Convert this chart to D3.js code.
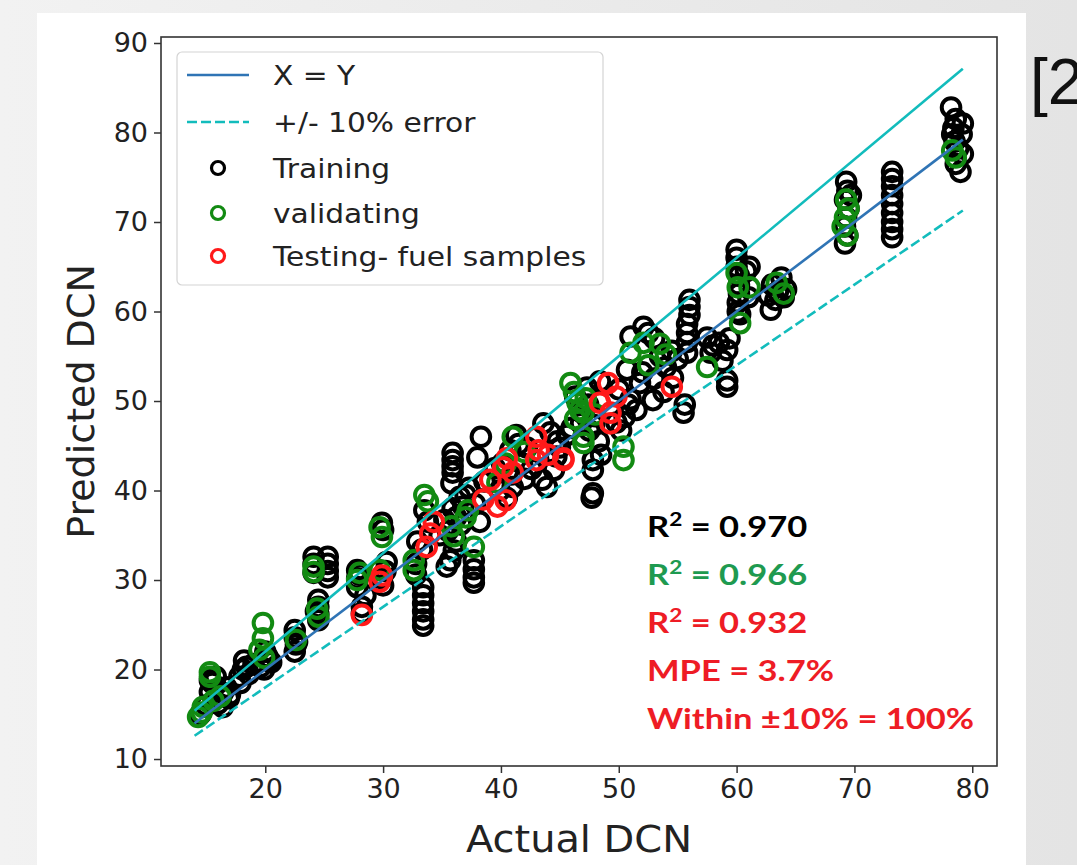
<!DOCTYPE html>
<html>
<head>
<meta charset="utf-8">
<script src="https://cdn.jsdelivr.net/npm/d3@7"></script>
<style>
  body { margin: 0; background: #ededed; }
  svg { display: block; }
</style>
</head>
<body>
<svg id="chart" width="1077" height="865"></svg>
<script>
// data: [actual DCN, predicted DCN]
var training = [
  [14.5,15],[15,16],[15.3,17.5],[15.5,18.5],[15.8,19.2],[16,16.2],[16.4,17.4],[16.4,15.8],[16.9,16.8],[15.3,18.8],[16.7,18],[17,17.2],
  [17.8,19.2],[18.1,20],[18.4,20.3],[18.6,19.5],[19,20.6],[18.2,21],[17.9,18.5],
  [19.9,20],[20.2,21.4],[20.5,20.8],[20,22],[20.3,21],[19.6,20.3],
  [22.5,24.4],[22.5,23.6],[22.6,22.8],[22.5,22],[22.7,23.1],
  [24.1,32.6],[24.1,31.8],[24.1,30.8],[24.5,27.8],[24.5,27],[24.5,26.2],[24.5,25.5],[24.3,26.5],
  [25.3,32.6],[25.3,31.8],[25.3,31],[25.3,30.3],
  [27.8,31.1],[27.8,30.2],[27.8,29.2],[28.2,27],[28.2,26.3],[28.5,28.3],[28,30.6],
  [29.9,36.4],[30,35.6],[29.9,30.2],[30.2,31],[30,29.4],[30.3,32],
  [32.8,31.8],[32.8,30.6],[33.4,29.2],[33.4,28.3],[33.4,27.4],[33.4,26.5],[33.4,25.6],[33.4,24.9],[33.8,36.5],[33.5,37.8],[33.3,33.4],[32.9,34.3],
  [35.9,44.2],[35.9,43.4],[35.9,42.7],[35.9,42],[35.8,40.8],[35.4,31.5],[35.7,32.2],[35.5,35.5],[35.2,36.7],[35.9,38],[36.2,37],[36.5,39.3],[36.2,34.3],[36,33.3],
  [36.8,38.2],[37,39.5],[36.6,36.2],[34.8,35],
  [37.7,32.2],[37.7,31.2],[37.7,30.3],[37.7,29.7],[38.3,46],[38,43.7],[37.3,40.3],[37.8,38.5],[38.6,41],[38.2,36.5],
  [39.5,42.5],[40.1,43],[41,40.4],[40.8,44.5],[41.5,45.2],[41.8,43],[42,41.3],[39.9,40],[40.5,39.2],[41.3,46.2],[42.2,44.8],[42.6,42.4],[40.9,41.8],
  [43.9,40.4],[43.5,41.2],[44.2,46.5],[44.8,45.5],[43.6,47.5],[44.5,42.3],[45,44.8],[45.6,46.2],[44.7,43.8],
  [46.3,50.5],[47.3,51.5],[47.8,43.4],[47.8,42.3],[47.8,39.7],[47.7,39.2],[47.9,47.3],[48,48.3],[47.5,46.7],[48.4,52.2],[46.8,47.5],[48.3,45.5],[48.5,44],[46,47],[47.4,49.6],
  [49.8,47.6],[50.2,46.7],[50.5,48.2],[50.8,49.6],[50,51.3],[51,57.2],[51,50.2],[50.7,53.5],[51.8,52],
  [52.1,58.3],[52.5,57.6],[53,57],[53.5,55],[53,52.5],[52.9,50.1],[51.5,49],[54,53.8],[54.5,55.6],[55,54.7],[53.8,51],[52,53.2],[55.5,48.7],[55.6,49.6],[54.6,52.6],
  [56,61.3],[56,60.5],[56,59.6],[55.8,58.6],[55.8,57.6],[55.8,56.6],[55.8,55.4],
  [57.5,57.1],[58,56.2],[57.8,55.4],[59.2,55.7],[59.4,57],[59.2,52.3],[59.2,51.6],[58.8,54.5],[58.5,56.5],
  [60,66.9],[60,66],[60,65],[60.2,64],[60.2,63],[60.2,62],[60.1,61],[60.1,60],[60.3,59.7],[60.8,64.5],[61.1,65],[61,61.6],
  [62.9,60.2],[63.3,61.3],[63.5,62.2],[63,63],[64,61.6],[64.2,62.5],[63.8,63.8],[62.7,61.8],
  [69.3,74.5],[69.4,73.5],[69.2,72.5],[69.5,71.5],[69.3,70.5],[69.2,69.5],[69.4,68.5],[69.2,67.6],[69.7,73],
  [73.2,75.6],[73.2,74.8],[73.2,74],[73.2,73],[73.2,72],[73.2,71],[73.2,70],[73.2,69.2],[73.2,68.3],
  [78.2,82.8],[78.6,81.5],[79.2,81],[78.4,80.5],[79.1,79.8],[78.5,79],[78.8,78.2],[79.2,77.6],[78.6,76.5],[79,75.6],[78.3,79.8]
]
var validating = [
  [14.3,14.7],[14.6,15.2],[15.3,19.7],[15.3,19.2],[14.7,15.8],[15.6,16.5],[16.2,17],
  [19.8,25.2],[19.8,23.5],[19.5,22.2],[19.9,21.3],[22.6,23.3],
  [24.1,31.5],[24.1,30.9],[24.5,25.9],[24.4,26.8],[27.8,30],[28,30.8],
  [29.7,35.9],[29.9,34.8],[29.7,31.1],[32.6,32.2],[32.6,31.1],[33.5,39.5],[33.8,38.8],
  [35.8,36],[36,34.9],[37.2,37.8],[37,37],[37.7,33.7],[39.7,40.9],[40.4,43],[41,46],[42,44.3],
  [45.9,52],[46.2,51],[46.5,49.8],[46.7,49],[47,48.7],[46.3,48],[47.2,50.3],[47,46],[47,45.3],[48,48.5],
  [50.4,44.9],[50.4,43.4],[51,55.4],[52.1,56.5],[53.5,56.4],[54,55.2],[52.5,54],[57.5,53.8],
  [60.3,58.7],[60.1,62.7],[60,64.3],[61.1,62.7],[63.4,63.2],[64,62],
  [69.3,72.5],[69.5,71.5],[69.2,70.5],[69,69.5],[69.4,68.5],[78.3,78],[78.6,77.2]
]
var testing = [
  [28.2,26.1],[29.7,29.8],[29.9,30.5],[34,35.2],[33.7,33.7],[34.3,36.5],
  [38.5,39],[39.1,41.2],[39.7,38.2],[40.2,42.6],[40.5,43.6],[41,42],[40.4,38.9],
  [43,46],[43.2,44.5],[43,43.4],[44,44],[45.3,43.6],[45.3,43.4],
  [48.4,49.8],[49.1,52],[49.3,48.7],[49.3,47.5],[49.8,50.5],[54.5,51.6]
]
var lineX = [14, 79.2]
var errorBand = 0.10
var xTicks = [20, 30, 40, 50, 60, 70, 80]
var yTicks = [10, 20, 30, 40, 50, 60, 70, 80, 90]
var legendNames = ["X = Y", "+/- 10% error", "Training", "validating", "Testing- fuel samples"]
var statLines = [
  {label: "R", sup: "2", rest: " = 0.970", color: "#000000"},
  {label: "R", sup: "2", rest: " = 0.966", color: "#1e9a50"},
  {label: "R", sup: "2", rest: " = 0.932", color: "#ee1c25"},
  {label: "MPE = 3.7%", sup: "", rest: "", color: "#ee1c25"},
  {label: "Within \u00b110% = 100%", sup: "", rest: "", color: "#ee1c25"}
]

var svg = d3.select("#chart")
var font = "DejaVu Sans, sans-serif"

// page background + white slide panel
var defs = svg.append("defs")
var grad = defs.append("linearGradient").attr("id", "bg").attr("x1", 0).attr("x2", 1)
grad.append("stop").attr("offset", 0).attr("stop-color", "#f2f2f2")
grad.append("stop").attr("offset", 1).attr("stop-color", "#e4e4e4")
svg.append("rect").attr("width", 1077).attr("height", 865).attr("fill", "url(#bg)")
svg.append("rect").attr("x", 37).attr("y", 13).attr("width", 989).attr("height", 852).attr("fill", "#ffffff")

svg.append("text").attr("x", 1030).attr("y", 104)
   .attr("font-family", "Liberation Sans Narrow, Liberation Sans, sans-serif")
   .attr("font-size", 64).attr("fill", "#111").text("[2")

var plotL = 161, plotT = 37, plotR = 997, plotB = 766
var x = d3.scaleLinear().domain([11.15, 82.1]).range([plotL, plotR])
var y = d3.scaleLinear().domain([9.22, 90.67]).range([plotB, plotT])

// text that is a little wider than the font gives (the figure was stretched sideways)
function wideText(parent, px, py, sx, anchor) {
  return parent.append("g").attr("transform", "translate(" + px + "," + py + ") scale(" + sx + ",1)")
    .append("text").attr("text-anchor", anchor || "start")
}

var plot = svg.append("g")
plot.append("clipPath").attr("id", "clip").append("rect")
    .attr("x", plotL).attr("y", plotT).attr("width", plotR - plotL).attr("height", plotB - plotT)

function drawSeries(data, color) {
  plot.append("g").attr("clip-path", "url(#clip)")
      .selectAll("circle").data(data).enter().append("circle")
      .attr("cx", function(d) { return x(d[0]) })
      .attr("cy", function(d) { return y(d[1]) })
      .attr("r", 9.3)
      .attr("fill", "none")
      .attr("stroke", color)
      .attr("stroke-width", 4)
}
drawSeries(training, "#000000")
drawSeries(validating, "#128a12")
drawSeries(testing, "#ff1a1a")

var line = d3.line().x(function(d) { return x(d[0]) }).y(function(d) { return y(d[1]) })
function band(k) { return lineX.map(function(v) { return [v, v * k] }) }
plot.append("path").attr("d", line(band(1 + errorBand))).attr("fill", "none")
    .attr("stroke", "#12bcbc").attr("stroke-width", 2.6)
plot.append("path").attr("d", line(band(1 - errorBand))).attr("fill", "none")
    .attr("stroke", "#12bcbc").attr("stroke-width", 2.6).attr("stroke-dasharray", "10,4")
plot.append("path").attr("d", line(band(1))).attr("fill", "none")
    .attr("stroke", "#2f74b5").attr("stroke-width", 2.6)

// axes
var xAxis = svg.append("g").attr("transform", "translate(0," + plotB + ")")
    .call(d3.axisBottom(x).tickValues(xTicks).tickSize(7).tickPadding(6))
var yAxis = svg.append("g").attr("transform", "translate(" + plotL + ",0)")
    .call(d3.axisLeft(y).tickValues(yTicks).tickSize(7).tickPadding(6))
;[xAxis, yAxis].forEach(function(a) {
  a.select(".domain").remove()
  a.selectAll("line").attr("stroke", "#333").attr("stroke-width", 1.5)
  a.selectAll("text").attr("font-family", font).attr("font-size", 27).attr("fill", "#222")
})
svg.append("rect").attr("x", plotL).attr("y", plotT).attr("width", plotR - plotL).attr("height", plotB - plotT)
   .attr("fill", "none").attr("stroke", "#333").attr("stroke-width", 1.6)

wideText(svg, (plotL + plotR) / 2, 852, 1.05, "middle")
   .attr("font-family", font).attr("font-size", 38).attr("fill", "#222").text("Actual DCN")
svg.append("text").attr("transform", "translate(94," + (plotT + plotB) / 2 + ") rotate(-90)")
   .attr("text-anchor", "middle").attr("font-family", font).attr("font-size", 38)
   .attr("fill", "#222").text("Predicted DCN")

// legend
var lg = svg.append("g")
lg.append("rect").attr("x", 177).attr("y", 52).attr("width", 426).attr("height", 233).attr("rx", 5)
  .attr("fill", "#fff").attr("stroke", "#d4d4d4").attr("stroke-width", 1.2)
var rowY = [75, 122, 168, 213, 256]
lg.append("line").attr("x1", 187).attr("x2", 249).attr("y1", rowY[0]).attr("y2", rowY[0])
  .attr("stroke", "#2f74b5").attr("stroke-width", 2.6)
lg.append("line").attr("x1", 187).attr("x2", 249).attr("y1", rowY[1]).attr("y2", rowY[1])
  .attr("stroke", "#12bcbc").attr("stroke-width", 2.6).attr("stroke-dasharray", "10,4")
;["#000000", "#128a12", "#ff1a1a"].forEach(function(c, i) {
  lg.append("circle").attr("cx", 218).attr("cy", rowY[i + 2]).attr("r", 6.5)
    .attr("fill", "none").attr("stroke", c).attr("stroke-width", 3.2)
})
legendNames.forEach(function(name, i) {
  wideText(lg, 273, rowY[i] + 10, 1.1)
    .attr("font-family", font).attr("font-size", 27).attr("fill", "#222").text(name)
})

// statistics box
statLines.forEach(function(d, i) {
  var t = wideText(svg, 647, 537 + i * 48, 1.19)
    .attr("font-family", "Lato, sans-serif").attr("font-weight", "bold").attr("font-size", 29)
    .attr("fill", d.color)
  t.append("tspan").text(d.label)
  if (d.sup) {
    t.append("tspan").attr("dy", -11).attr("font-size", 19).text(d.sup)
    t.append("tspan").attr("dy", 11).text(d.rest)
  }
})
</script>
</body>
</html>
